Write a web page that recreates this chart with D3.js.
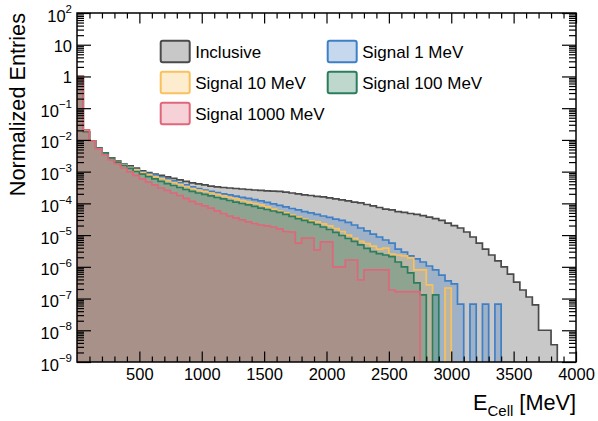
<!DOCTYPE html>
<html><head><meta charset="utf-8">
<script src="https://cdn.jsdelivr.net/npm/d3@7"></script>
<style>
body{margin:0;background:#fff}
text{font-family:"Liberation Sans",Arial,Helvetica,sans-serif;fill:#000}
</style>
</head><body>
<svg id="c" width="598" height="421"></svg>
<script>
// ---------- data ----------
const binWidth = 50;                      // MeV
const binLow = d3.range(0, 4000, binWidth); // 80 bins, low edges
const xTickLabels = [500,1000,1500,2000,2500,3000,3500,4000];
const yDecades = [-9,-8,-7,-6,-5,-4,-3,-2,-1,0,1,2];
const seriesNames = ["Inclusive","Signal 1 MeV","Signal 10 MeV","Signal 100 MeV","Signal 1000 MeV"];

const inclusive = [
 1.0,1.78e-2,9.2e-3,5.6e-3,3.9e-3,2.7e-3,2.17e-3,1.74e-3,1.51e-3,1.30e-3,
 1.05e-3,9.4e-4,8.4e-4,7.6e-4,6.8e-4,6.1e-4,5.5e-4,4.9e-4,4.4e-4,4.1e-4,
 3.8e-4,3.5e-4,3.33e-4,3.16e-4,3.05e-4,2.94e-4,2.84e-4,2.74e-4,2.64e-4,2.57e-4,
 2.49e-4,2.44e-4,2.38e-4,2.26e-4,2.12e-4,1.98e-4,1.86e-4,1.77e-4,1.67e-4,1.59e-4,
 1.48e-4,1.38e-4,1.28e-4,1.19e-4,1.10e-4,1.03e-4,9.2e-5,8.3e-5,7.4e-5,6.6e-5,
 6.2e-5,5.5e-5,5.2e-5,4.8e-5,4.5e-5,4.1e-5,3.7e-5,3.3e-5,2.9e-5,2.4e-5,
 2.0e-5,1.67e-5,1.25e-5,8.7e-6,5.6e-6,3.6e-6,2.36e-6,1.53e-6,9.9e-7,5.9e-7,
 3.3e-7,1.86e-7,1.12e-7,6.3e-8,1.0e-8,1.0e-8,3.5e-9,0,0,0];

const signal1 = [
 1.0,1.78e-2,9.2e-3,5.6e-3,3.9e-3,2.7e-3,2.09e-3,1.68e-3,1.40e-3,1.17e-3,
 9.8e-4,8.7e-4,7.9e-4,6.8e-4,5.9e-4,5.1e-4,4.4e-4,3.8e-4,3.3e-4,2.94e-4,
 2.64e-4,2.40e-4,2.19e-4,2.0e-4,1.84e-4,1.68e-4,1.55e-4,1.43e-4,1.31e-4,1.19e-4,
 1.07e-4,9.6e-5,8.6e-5,7.7e-5,6.9e-5,6.2e-5,5.5e-5,5.0e-5,4.5e-5,4.0e-5,
 3.6e-5,3.2e-5,2.9e-5,2.5e-5,2.08e-5,1.67e-5,1.35e-5,1.08e-5,8.7e-6,7.0e-6,
 5.6e-6,3.6e-6,2.9e-6,2.2e-6,1.77e-6,1.42e-6,1.06e-6,8.0e-7,5.5e-7,3.6e-7,
 2.9e-7,6.7e-8,0,6.7e-8,0,6.7e-8,0,6.7e-8,0,0,
 0,0,0,0,0,0,0,0,0,0];

const signal10 = [
 1.0,1.78e-2,9.2e-3,5.6e-3,3.9e-3,2.7e-3,2.09e-3,1.62e-3,1.35e-3,1.13e-3,
 9.4e-4,8.1e-4,7.0e-4,6.1e-4,5.3e-4,4.55e-4,3.94e-4,3.4e-4,2.94e-4,2.64e-4,
 2.37e-4,2.12e-4,1.91e-4,1.71e-4,1.53e-4,1.38e-4,1.23e-4,1.10e-4,9.9e-5,8.9e-5,
 7.7e-5,6.6e-5,5.75e-5,5.0e-5,4.3e-5,3.7e-5,3.2e-5,2.8e-5,2.6e-5,2.25e-5,
 1.94e-5,1.6e-5,1.3e-5,1.0e-5,7.9e-6,6.3e-6,5.4e-6,4.5e-6,3.6e-6,3.9e-6,
 2.5e-6,2.36e-6,2.2e-6,1.9e-6,8.0e-7,8.0e-7,2.7e-7,0,0,2.15e-7,
 0,0,0,0,0,0,0,0,0,0,
 0,0,0,0,0,0,0,0,0,0];

const signal100 = [
 1.0,1.78e-2,9.2e-3,5.6e-3,3.9e-3,2.7e-3,2.0e-3,1.56e-3,1.26e-3,1.01e-3,
 8.4e-4,7.0e-4,5.9e-4,4.9e-4,4.2e-4,3.66e-4,3.16e-4,2.74e-4,2.37e-4,2.12e-4,
 1.91e-4,1.71e-4,1.53e-4,1.38e-4,1.23e-4,1.10e-4,9.9e-5,8.9e-5,8.0e-5,7.1e-5,
 6.4e-5,5.75e-5,5.2e-5,4.5e-5,3.9e-5,3.3e-5,2.9e-5,2.5e-5,2.16e-5,1.8e-5,
 1.5e-5,1.21e-5,9.7e-6,7.8e-6,6.3e-6,4.9e-6,3.8e-6,3.0e-6,2.6e-6,2.36e-6,
 2.1e-6,1.42e-6,9.9e-7,6.4e-7,3.1e-7,1.3e-7,0,1.3e-7,0,0,
 0,0,0,0,0,0,0,0,0,0,
 0,0,0,0,0,0,0,0,0,0];

const signal1000 = [
 1.0,2.06e-2,9.2e-3,5.2e-3,3.35e-3,2.33e-3,1.74e-3,1.30e-3,9.8e-4,7.6e-4,
 5.9e-4,4.7e-4,3.8e-4,3.05e-4,2.55e-4,2.12e-4,1.77e-4,1.43e-4,1.15e-4,9.6e-5,
 8.3e-5,7.1e-5,5.8e-5,4.8e-5,4.0e-5,3.5e-5,3.0e-5,2.6e-5,2.32e-5,2.08e-5,
 1.94e-5,1.8e-5,1.56e-5,1.30e-5,1.25e-5,5.6e-6,8.1e-6,8.1e-6,3.4e-6,6.1e-6,
 6.1e-6,9.9e-7,9.9e-7,1.64e-6,1.64e-6,3.85e-7,8.0e-7,8.0e-7,8.0e-7,8.0e-7,
 1.86e-7,1.65e-7,1.65e-7,1.65e-7,1.65e-7,0,0,0,0,0,
 0,0,0,0,0,0,0,0,0,0,
 0,0,0,0,0,0,0,0,0,0];

const seriesValues = [inclusive, signal1, signal10, signal100, signal1000];
const seriesColors = ["#4a4a4a","#3f7fc6","#f9c15c","#2b7d5d","#e0677a"];

// ---------- layout ----------
const M = {l:77, r:576, t:13, b:362};
const x = d3.scaleLinear().domain([0,4000]).range([M.l, M.r]);
const y = d3.scaleLog().domain([1e-9,1e2]).range([M.b, M.t]);
const svg = d3.select("#c");

svg.append("defs").append("clipPath").attr("id","clip")
  .append("rect").attr("x",M.l).attr("y",M.t).attr("width",M.r-M.l).attr("height",M.b-M.t);

const gH = svg.append("g").attr("clip-path","url(#clip)");
const yBot = M.b + 6;
seriesValues.forEach((vals,si)=>{
  const col = seriesColors[si];
  let d = `M${x(0)},${yBot}`;
  vals.forEach((v,i)=>{
    const yy = v>0 ? y(v) : yBot;
    d += `L${x(binLow[i])},${yy}L${x(binLow[i]+binWidth)},${yy}`;
  });
  d += `L${x(4000)},${yBot}Z`;
  gH.append("path").attr("d",d)
    .attr("fill",col).attr("fill-opacity",0.3)
    .attr("stroke",col).attr("stroke-width",1.7).attr("stroke-linejoin","miter");
});

// ---------- axes ----------
const xMinor = d3.range(100,4000,100).filter(v=>v%500!==0);
const yMinor = [];
yDecades.slice(0,-1).forEach(e=>{for(let k=2;k<=9;k++) yMinor.push(k*Math.pow(10,e));});
const yMajor = yDecades.map(e=>Math.pow(10,e));

function style(g){ g.select(".domain").remove(); g.selectAll("line").attr("stroke","#000").attr("stroke-width",1.2); }

svg.append("g").attr("transform",`translate(0,${M.b})`)
  .call(d3.axisBottom(x).tickValues(xTickLabels).tickSize(-10.5).tickPadding(6.5).tickFormat(d3.format("d")))
  .call(style).call(g=>g.selectAll("text").attr("font-size",16.5).attr("font-family","Liberation Sans, Arial, sans-serif"));
svg.append("g").attr("transform",`translate(0,${M.b})`)
  .call(d3.axisBottom(x).tickValues(xMinor).tickSize(-5.5).tickFormat("")).call(style);
svg.append("g").attr("transform",`translate(0,${M.t})`)
  .call(d3.axisTop(x).tickValues(xTickLabels).tickSize(-10.5).tickFormat("")).call(style);
svg.append("g").attr("transform",`translate(0,${M.t})`)
  .call(d3.axisTop(x).tickValues(xMinor).tickSize(-5.5).tickFormat("")).call(style);

svg.append("g").attr("transform",`translate(${M.l},0)`)
  .call(d3.axisLeft(y).tickValues(yMajor).tickSize(-14).tickFormat("")).call(style);
svg.append("g").attr("transform",`translate(${M.l},0)`)
  .call(d3.axisLeft(y).tickValues(yMinor).tickSize(-7).tickFormat("")).call(style);
svg.append("g").attr("transform",`translate(${M.r},0)`)
  .call(d3.axisRight(y).tickValues(yMajor).tickSize(-14).tickFormat("")).call(style);
svg.append("g").attr("transform",`translate(${M.r},0)`)
  .call(d3.axisRight(y).tickValues(yMinor).tickSize(-7).tickFormat("")).call(style);

// y tick labels
yDecades.forEach(e=>{
  const t = svg.append("text").attr("x",M.l-5).attr("text-anchor","end").attr("font-size",16.5);
  if(e===0){ t.attr("y",y(1)+7).text("1"); }
  else if(e===1){ t.attr("y",y(10)+7).text("10"); }
  else {
    t.attr("y",y(Math.pow(10,e))+8.5);
    t.append("tspan").text("10");
    t.append("tspan").attr("dy",-8.3).attr("font-size",11.5).text(e<0?("\u2212"+(-e)):String(e));
  }
});

// frame
svg.append("rect").attr("x",M.l).attr("y",M.t).attr("width",M.r-M.l).attr("height",M.b-M.t)
  .attr("fill","none").attr("stroke","#000").attr("stroke-width",1.5);

// axis titles
svg.append("text").attr("transform",`translate(25,${M.t}) rotate(-90)`)
  .attr("text-anchor","end").attr("font-size",21.7).text("Normalized Entries");
const xl = svg.append("text").attr("x",M.r).attr("y",410).attr("text-anchor","end").attr("font-size",21.7);
xl.append("tspan").text("E");
xl.append("tspan").attr("font-size",15).attr("dy",6).text("Cell");
xl.append("tspan").attr("dy",-6).text(" [MeV]");

// ---------- legend ----------
const legPos = [[160.7,40.7],[327.7,40.7],[160.7,71.7],[327.7,71.7],[160.7,102.7]];
const legOrder = [0,1,2,3,4];
legOrder.forEach((si,i)=>{
  const [lx,ly] = legPos[i];
  svg.append("rect").attr("x",lx).attr("y",ly).attr("width",29).attr("height",21.5).attr("rx",2)
    .attr("fill",seriesColors[si]).attr("fill-opacity",0.3)
    .attr("stroke",seriesColors[si]).attr("stroke-width",2);
  svg.append("text").attr("x",lx+34.5).attr("y",ly+17).attr("font-size",17).text(seriesNames[si]);
});
</script>
</body></html>
